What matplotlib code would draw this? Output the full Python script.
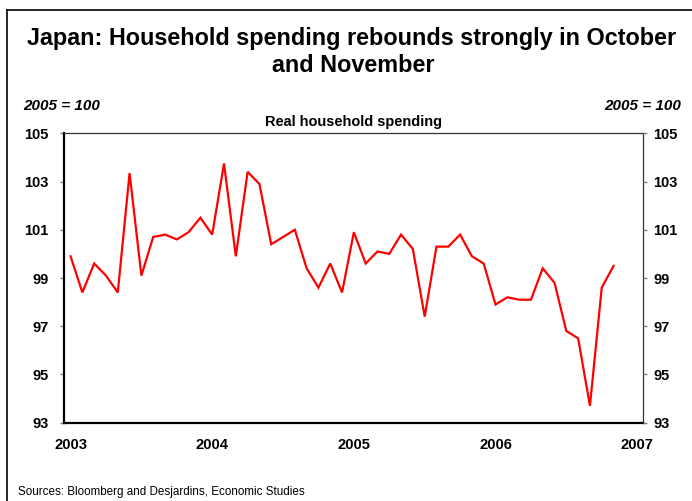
import matplotlib
matplotlib.use("Agg")
import matplotlib.pyplot as plt
from matplotlib.lines import Line2D

plt.rcParams["font.family"] = ["Liberation Sans", "DejaVu Sans"]

# Real household spending, monthly, Jan 2003 - Nov 2006 (2005 = 100)
spending_2003 = [99.9, 98.4, 99.6, 99.1, 98.4, 103.35, 99.1, 100.7, 100.8, 100.6, 100.9, 101.5]
spending_2004 = [100.8, 103.75, 99.9, 103.4, 102.9, 100.4, 100.7, 101.0, 99.4, 98.6, 99.6, 98.4]
spending_2005 = [100.9, 99.6, 100.1, 100.0, 100.8, 100.2, 97.4, 100.3, 100.3, 100.8, 99.9, 99.6]
spending_2006 = [97.9, 98.2, 98.1, 98.1, 99.4, 98.8, 96.8, 96.5, 93.7, 98.6, 99.5]
spending = spending_2003 + spending_2004 + spending_2005 + spending_2006
months = list(range(len(spending)))  # month index, 0 = Jan 2003

year_labels = ["2003", "2004", "2005", "2006", "2007"]
year_positions = [12 * i for i in range(len(year_labels))]
y_ticks = [93, 95, 97, 99, 101, 103, 105]

W, H = 692, 501
fig = plt.figure(figsize=(W / 100, H / 100), dpi=100)
fig.patch.set_facecolor("white")

ax = fig.add_axes([64.3 / W, 1 - 422.7 / H, (642.7 - 64.3) / W, (422.7 - 133.3) / H])
ax.plot(months, spending, color="#ff0000", lw=1.6, solid_joinstyle="miter")
ax.set_xlim(-0.53, 48.47)
ax.set_ylim(93, 105)

ax.set_xticks(year_positions)
ax.set_xticklabels(year_labels, fontsize=10.6, fontweight="bold")
ax.tick_params(axis="x", length=0, pad=11)
ax.set_yticks(y_ticks)
ax.set_yticklabels([str(v) for v in y_ticks], fontsize=10.5, fontweight="bold")
ax.tick_params(axis="y", length=3, width=1, color="#808080", pad=8.3, direction="out")

for side in ("left", "bottom"):
    ax.spines[side].set_linewidth(1.6)
    ax.spines[side].set_color("black")
for side in ("top", "right"):
    ax.spines[side].set_linewidth(0.9)
    ax.spines[side].set_color("#333333")

axr = ax.twinx()
axr.set_ylim(93, 105)
axr.set_yticks(y_ticks)
axr.set_yticklabels([str(v) for v in y_ticks], fontsize=10.5, fontweight="bold")
axr.tick_params(axis="y", length=3, width=1, color="#808080", pad=4.5, direction="out")
for s in axr.spines.values():
    s.set_visible(False)

# Titles and notes
fig.text(352 / W, 1 - 45 / H, "Japan: Household spending rebounds strongly in October",
         ha="center", va="baseline", fontsize=16.8, fontweight="bold")
fig.text(353 / W, 1 - 72 / H, "and November",
         ha="center", va="baseline", fontsize=16.8, fontweight="bold")
fig.text(23 / W, 1 - 110 / H, "2005 = 100", ha="left", va="baseline",
         fontsize=11, fontweight="bold", fontstyle="italic")
fig.text(681 / W, 1 - 110 / H, "2005 = 100", ha="right", va="baseline",
         fontsize=11, fontweight="bold", fontstyle="italic")
fig.text(353.5 / W, 1 - 126 / H, "Real household spending", ha="center", va="baseline",
         fontsize=10.45, fontweight="bold")
fig.text(18 / W, 1 - 495 / H, "Sources: Bloomberg and Desjardins, Economic Studies",
         ha="left", va="baseline", fontsize=8.4)

# Outer frame (left and top edges)
fig.add_artist(Line2D([6.7 / W, 6.7 / W], [0, 1 - 10 / H], transform=fig.transFigure,
                      color="black", lw=1.2))
fig.add_artist(Line2D([6.7 / W, 1], [1 - 10 / H, 1 - 10 / H], transform=fig.transFigure,
                      color="black", lw=1.2))

fig.savefig("out.png", dpi=100, facecolor="white")
